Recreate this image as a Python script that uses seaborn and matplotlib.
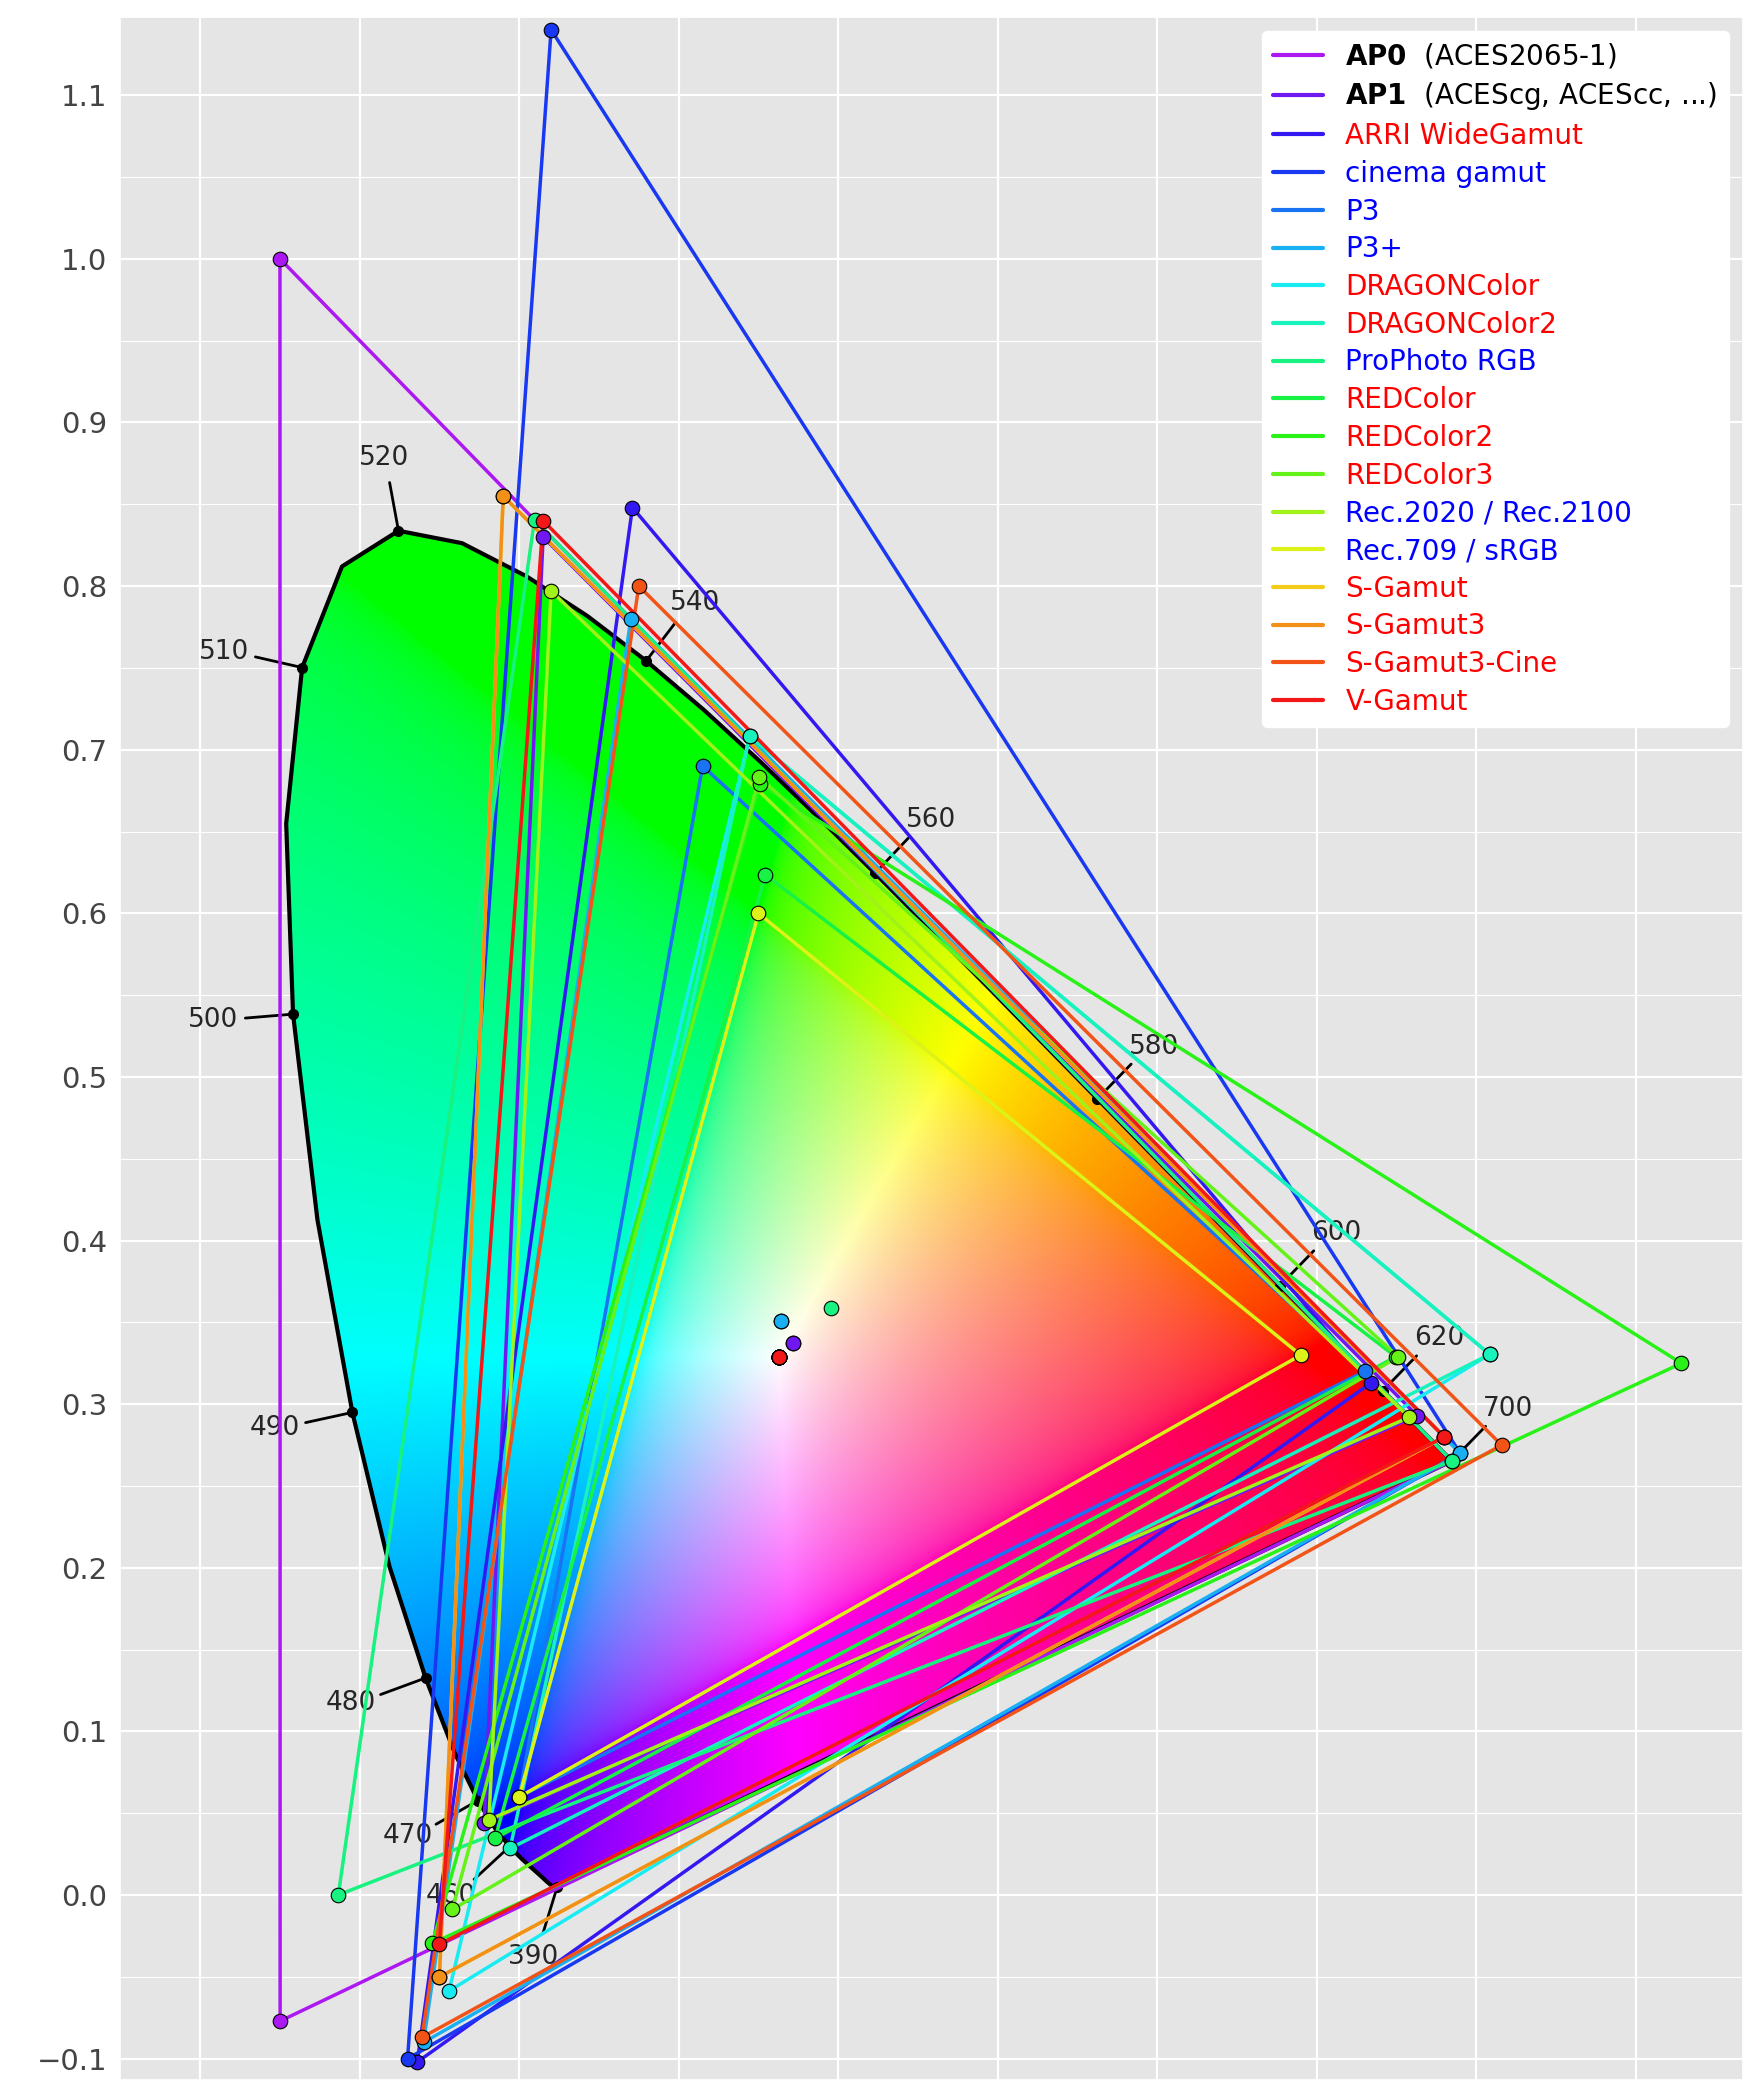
import numpy as np
import matplotlib
matplotlib.use("Agg")
import matplotlib.pyplot as plt
import seaborn as sns
import colorsys
from matplotlib.path import Path
from matplotlib.patches import PathPatch
from matplotlib.lines import Line2D

# ---- data ----
wavelengths = list(range(380, 705, 5))
locus_x = [0.1741,0.1740,0.1738,0.1736,0.1733,0.1730,0.1726,0.1721,0.1714,0.1703,0.1689,0.1669,0.1644,0.1611,0.1566,0.1510,0.1440,0.1355,0.1241,0.1096,0.0913,0.0687,0.0454,0.0235,0.0082,0.0039,0.0139,0.0389,0.0743,0.1142,0.1547,0.1929,0.2296,0.2658,0.3016,0.3373,0.3731,0.4087,0.4441,0.4788,0.5125,0.5448,0.5752,0.6029,0.6270,0.6482,0.6658,0.6801,0.6915,0.7006,0.7079,0.7140,0.7190,0.7230,0.7260,0.7283,0.7300,0.7311,0.7320,0.7327,0.7334,0.7340,0.7344,0.7346,0.7347]
locus_y = [0.0050,0.0050,0.0049,0.0049,0.0048,0.0048,0.0048,0.0048,0.0051,0.0058,0.0069,0.0086,0.0109,0.0138,0.0177,0.0227,0.0297,0.0399,0.0578,0.0868,0.1327,0.2007,0.2950,0.4127,0.5384,0.6548,0.7502,0.8120,0.8338,0.8262,0.8059,0.7816,0.7543,0.7243,0.6923,0.6589,0.6245,0.5896,0.5547,0.5202,0.4866,0.4544,0.4242,0.3965,0.3725,0.3514,0.3340,0.3197,0.3083,0.2993,0.2920,0.2859,0.2809,0.2770,0.2740,0.2717,0.2700,0.2689,0.2680,0.2673,0.2666,0.2660,0.2656,0.2654,0.2653]
label_wl = [390, 460, 470, 480, 490, 500, 510, 520, 540, 560, 580, 600, 620, 700]

gamut_names = [r"$\mathbf{AP0}$  (ACES2065-1)", r"$\mathbf{AP1}$  (ACEScg, ACEScc, ...)",
               "ARRI WideGamut", "cinema gamut", "P3", "P3+", "DRAGONColor", "DRAGONColor2",
               "ProPhoto RGB", "REDColor", "REDColor2", "REDColor3", "Rec.2020 / Rec.2100",
               "Rec.709 / sRGB", "S-Gamut", "S-Gamut3", "S-Gamut3-Cine", "V-Gamut"]
label_colors = ["black", "black", "red", "blue", "blue", "blue", "red", "red", "blue",
                "red", "red", "red", "blue", "blue", "red", "red", "red", "red"]
red_x   = [0.7347, 0.713, 0.684, 0.740, 0.680, 0.740, 0.7585, 0.7585, 0.7347, 0.6997, 0.8787, 0.7012, 0.708, 0.640, 0.730, 0.730, 0.766, 0.730]
red_y   = [0.2653, 0.293, 0.313, 0.270, 0.320, 0.270, 0.3305, 0.3305, 0.2653, 0.3290, 0.3250, 0.3290, 0.292, 0.330, 0.280, 0.280, 0.275, 0.280]
green_x = [0.0, 0.165, 0.221, 0.170, 0.265, 0.220, 0.2945, 0.2945, 0.1596, 0.3043, 0.3009, 0.3006, 0.170, 0.300, 0.140, 0.140, 0.225, 0.165]
green_y = [1.0, 0.830, 0.848, 1.140, 0.690, 0.780, 0.7084, 0.7084, 0.8404, 0.6236, 0.6791, 0.6832, 0.797, 0.600, 0.855, 0.855, 0.800, 0.840]
blue_x  = [0.0001, 0.128, 0.0861, 0.080, 0.150, 0.090, 0.1060, 0.1443, 0.0366, 0.1349, 0.0955, 0.1081, 0.131, 0.150, 0.100, 0.100, 0.089, 0.100]
blue_y  = [-0.077, 0.044, -0.102, -0.100, 0.060, -0.090, -0.0586, 0.0285, 0.0001, 0.0347, -0.0295, -0.0088, 0.046, 0.060, -0.050, -0.050, -0.087, -0.030]
white_x = [0.32168, 0.32168, 0.3127, 0.3127, 0.314, 0.314, 0.3127, 0.3127, 0.3457, 0.3127, 0.3127, 0.3127, 0.3127, 0.3127, 0.3127, 0.3127, 0.3127, 0.3127]
white_y = [0.33767, 0.33767, 0.329, 0.329, 0.351, 0.351, 0.329, 0.329, 0.3585, 0.329, 0.329, 0.329, 0.329, 0.329, 0.329, 0.329, 0.329, 0.329]

# ---- style ----
sns.set_theme(style="darkgrid", rc={"axes.facecolor": "#E5E5E5", "grid.color": "white",
                                    "grid.linewidth": 1.6})
fig = plt.figure(figsize=(17.46, 20.8), dpi=100)
ax = fig.add_axes([0.069, 0.0, 0.929, 0.992])
xmin, xmax, ymin, ymax = -0.1, 0.917, -0.113, 1.148
ax.set_xlim(xmin, xmax); ax.set_ylim(ymin, ymax)

# ---- chromaticity fill ----
n = 900
gx = np.linspace(xmin, xmax, n); gy = np.linspace(ymin, ymax, n)
X, Y = np.meshgrid(gx, gy)
Ys = np.where(np.abs(Y) < 1e-4, 1e-4, Y)
XX = X / Ys; ZZ = (1 - X - Y) / Ys; YY = np.ones_like(X)
M = np.array([[3.2406, -1.5372, -0.4986], [-0.9689, 1.8758, 0.0415], [0.0557, -0.2040, 1.0570]])
rgb = np.stack([M[i, 0]*XX + M[i, 1]*YY + M[i, 2]*ZZ for i in range(3)], axis=-1)
rgb = np.clip(rgb, 0, None)
rgb = rgb / np.maximum(rgb.max(axis=-1, keepdims=True), 1e-9)
rgb = np.where(rgb <= 0.0031308, 12.92*rgb, 1.055*np.power(rgb, 1/2.4) - 0.055)
rgb = np.clip(rgb, 0, 1)
im = ax.imshow(rgb, origin="lower", extent=[xmin, xmax, ymin, ymax], aspect="auto", zorder=1,
               interpolation="bilinear")
verts = list(zip(locus_x, locus_y)) + [(locus_x[0], locus_y[0])]
patch = PathPatch(Path(verts), transform=ax.transData, facecolor="none", edgecolor="none")
ax.add_patch(patch)
im.set_clip_path(patch)
ax.plot(locus_x + [locus_x[0]], locus_y + [locus_y[0]], color="black", lw=3, zorder=2)

# wavelength ticks
cx, cy = 0.33, 0.33
for wl in label_wl:
    i = wavelengths.index(wl)
    px, py = locus_x[i], locus_y[i]
    i0, i1 = max(i-1, 0), min(i+1, len(wavelengths)-1)
    tx, ty = locus_x[i1]-locus_x[i0], locus_y[i1]-locus_y[i0]
    nx, ny = ty, -tx
    nrm = np.hypot(nx, ny) or 1
    nx, ny = nx/nrm, ny/nrm
    if (px-cx)*nx + (py-cy)*ny < 0:
        nx, ny = -nx, -ny
    if wl == 390:
        nx, ny = -0.3, -0.95
    ax.plot([px, px+0.03*nx], [py, py+0.03*ny], color="black", lw=2, zorder=3)
    ax.plot([px], [py], "o", color="black", ms=7, zorder=3)
    ax.text(px+0.05*nx, py+0.045*ny, str(wl), fontsize=19, ha="center", va="center", zorder=3)

# ---- gamuts ----
cols = [colorsys.hsv_to_rgb(0.78 - 0.78*k/(len(gamut_names)-1), 0.9, 0.95) for k in range(len(gamut_names))]
handles = []
for k in range(len(gamut_names)):
    tx_ = [red_x[k], green_x[k], blue_x[k], red_x[k]]
    ty_ = [red_y[k], green_y[k], blue_y[k], red_y[k]]
    sns.lineplot(x=tx_, y=ty_, sort=False, estimator=None, color=cols[k], lw=2.5, ax=ax, zorder=4)
    sns.scatterplot(x=tx_[:3] + [white_x[k]], y=ty_[:3] + [white_y[k]], color=cols[k], s=110,
                    edgecolor="black", linewidth=0.8, ax=ax, zorder=5)
    handles.append(Line2D([0], [0], color=cols[k], lw=3))

leg = ax.legend(handles, gamut_names, loc="upper right", fontsize=20, frameon=True,
                facecolor="white", edgecolor="white", framealpha=1, handlelength=1.8,
                labelspacing=0.35, borderaxespad=0.5)
for t, c in zip(leg.get_texts(), label_colors):
    t.set_color(c)
leg.set_zorder(10)

ax.set_xticks(np.arange(-0.05, 0.9, 0.1))
ax.set_xticklabels([])
ax.set_yticks(np.arange(-0.1, 1.15, 0.1))
ax.set_yticklabels(["\u22120.1"] + [f"{v:.1f}" for v in np.arange(0.0, 1.15, 0.1)], fontsize=21, color="#444444")
ax.set_yticks(np.arange(-0.05, 1.15, 0.1), minor=True)
ax.grid(True, which="minor", axis="y", color="white", lw=0.8)
ax.tick_params(axis="x", length=0)
fig.savefig("out.png", dpi=100)
